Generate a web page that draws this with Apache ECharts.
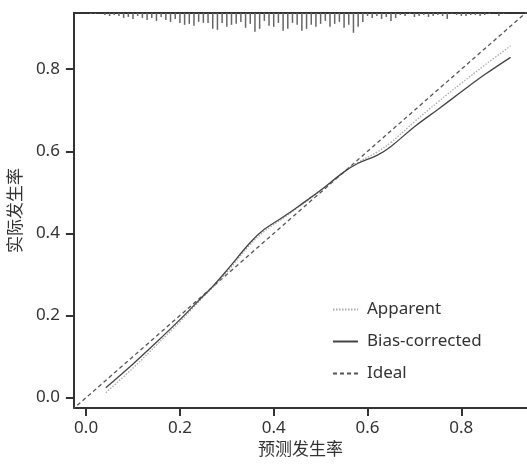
<!DOCTYPE html>
<html>
<head>
<meta charset="utf-8">
<script src="https://cdn.jsdelivr.net/npm/echarts@6/dist/echarts.min.js"></script>
<style>html,body{margin:0;padding:0;background:#fff}#c{width:527px;height:464px}</style>
</head>
<body>
<div id="c"></div>
<script>
// ---- data ----
var xTicks = [0.0, 0.2, 0.4, 0.6, 0.8];
var yTicks = [0.0, 0.2, 0.4, 0.6, 0.8];
var xName = '预测发生率';
var yName = '实际发生率';
var seriesNames = ['Apparent', 'Bias-corrected', 'Ideal'];

var apparentX = [0.042, 0.1, 0.15, 0.2, 0.25, 0.27, 0.3, 0.35, 0.38, 0.42, 0.46, 0.5, 0.55, 0.58, 0.62, 0.65, 0.7, 0.75, 0.8, 0.85, 0.905];
var apparentY = [0.012, 0.072, 0.128, 0.185, 0.245, 0.268, 0.305, 0.373, 0.405, 0.437, 0.47, 0.504, 0.55, 0.573, 0.598, 0.622, 0.672, 0.72, 0.766, 0.81, 0.857];

var biasX = [0.042, 0.1, 0.15, 0.2, 0.25, 0.27, 0.3, 0.35, 0.38, 0.42, 0.46, 0.5, 0.55, 0.58, 0.62, 0.65, 0.7, 0.75, 0.8, 0.85, 0.905];
var biasY = [0.024, 0.082, 0.135, 0.19, 0.248, 0.271, 0.31, 0.378, 0.41, 0.44, 0.472, 0.505, 0.55, 0.571, 0.59, 0.612, 0.66, 0.702, 0.745, 0.787, 0.829];

var idealX = [-0.03, 0.95];
var idealY = [-0.03, 0.95];

var rugX = [0.01,0.02,0.04,0.05,0.06,0.07,0.08,0.09,0.10,0.11,0.12,0.13,0.14,0.15,0.16,0.17,0.18,0.19,0.20,0.21,0.22,0.23,0.24,0.25,0.26,0.27,0.28,0.29,0.30,0.31,0.32,0.33,0.34,0.35,0.36,0.37,0.38,0.39,0.40,0.41,0.42,0.43,0.44,0.45,0.46,0.47,0.48,0.49,0.50,0.51,0.52,0.53,0.54,0.55,0.56,0.57,0.58,0.59,0.60,0.61,0.62,0.63,0.64,0.65,0.66,0.67,0.68,0.69,0.70,0.71,0.72,0.73,0.74,0.75,0.76,0.77,0.78,0.79,0.80,0.81,0.82,0.83,0.84,0.85,0.86,0.88,0.89];
var rugH = [1,1,2,3,2,3,5,4,6,3,5,7,5,8,4,7,9,6,10,12,11,13,9,10,10,16,17,10,14,12,11,9,15,11,19,16,8,13,14,10,18,16,10,12,18,16,12,14,11,8,14,11,9,15,12,20,14,9,3,5,3,6,4,8,5,2,3,1,4,3,2,4,3,2,3,6,1,2,3,3,2,2,3,2,1,3,1];

function pairs(xs, ys) { return xs.map(function (x, i) { return [x, ys[i]]; }); }

var font = "'Noto Sans', 'Noto Sans CJK SC', sans-serif";
var axisColor = '#333';
var noSymbol = {color: 'rgba(0,0,0,0)', borderColor: 'rgba(0,0,0,0)', borderWidth: 0};

var chart = echarts.init(document.getElementById('c'), null, {renderer: 'canvas'});
chart.setOption({
  animation: false,
  backgroundColor: '#fff',
  textStyle: {fontFamily: font},
  grid: {left: 71, right: 0, top: 13, bottom: 51, containLabel: false},
  legend: {
    orient: 'vertical',
    left: 327, top: 296,
    itemWidth: 25, itemHeight: 17, itemGap: 15,
    itemStyle: noSymbol,
    data: seriesNames,
    textStyle: {fontSize: 17, color: '#333', fontFamily: font, padding: [0, 0, 0, 4]}
  },
  xAxis: [{
    type: 'value', min: -0.026, max: 0.94, position: 'bottom',
    name: xName, nameLocation: 'middle', nameGap: 33,
    nameTextStyle: {fontSize: 17, color: '#333', fontFamily: font},
    axisLine: {show: true, onZero: false, lineStyle: {color: axisColor, width: 2}},
    axisTick: {show: true, length: 8, lineStyle: {color: axisColor, width: 2}, customValues: xTicks},
    axisLabel: {fontSize: 17, color: '#333', margin: 12, customValues: xTicks,
      formatter: function (v) { return v.toFixed(1); }},
    splitLine: {show: false}
  }, {
    type: 'value', min: -0.026, max: 0.94, position: 'top',
    axisLine: {show: true, onZero: false, lineStyle: {color: axisColor, width: 2}},
    axisTick: {show: false}, axisLabel: {show: false}, splitLine: {show: false}
  }],
  yAxis: [{
    type: 'value', min: -0.0255, max: 0.937,
    name: yName, nameLocation: 'middle', nameGap: 41,
    nameTextStyle: {fontSize: 17, color: '#333', fontFamily: font},
    axisLine: {show: true, onZero: false, lineStyle: {color: axisColor, width: 2}},
    axisTick: {show: true, length: 8, lineStyle: {color: axisColor, width: 2}, customValues: yTicks},
    axisLabel: {fontSize: 17, color: '#333', margin: 14, customValues: yTicks,
      formatter: function (v) { return v.toFixed(1); }},
    splitLine: {show: false}
  }, {
    type: 'value', min: 0, max: 400, inverse: true, show: false
  }],
  series: [{
    name: 'rug', type: 'bar', xAxisIndex: 0, yAxisIndex: 1,
    barWidth: 1.5, itemStyle: {color: '#666'},
    data: pairs(rugX, rugH), silent: true, legendHoverLink: false
  }, {
    name: seriesNames[0], type: 'line', symbol: 'none', smooth: 0.4,
    lineStyle: {color: '#aaa', width: 1.3, type: [1.5, 1.5]},
    itemStyle: {color: '#aaa'},
    data: pairs(apparentX, apparentY), z: 3
  }, {
    name: seriesNames[1], type: 'line', symbol: 'none', smooth: 0.4,
    lineStyle: {color: '#444', width: 1.3, type: 'solid'},
    itemStyle: {color: '#444'},
    data: pairs(biasX, biasY), z: 4
  }, {
    name: seriesNames[2], type: 'line', symbol: 'none',
    lineStyle: {color: '#555', width: 1.3, type: [4, 3]},
    itemStyle: {color: '#555'},
    data: pairs(idealX, idealY), z: 2, clip: true
  }]
});
</script>
</body>
</html>
